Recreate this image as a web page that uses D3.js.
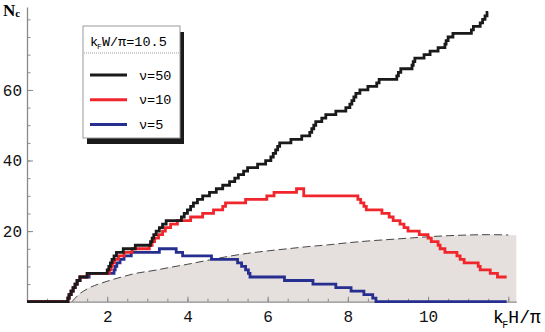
<!DOCTYPE html>
<html>
<head>
<meta charset="utf-8">
<script src="https://cdn.jsdelivr.net/npm/d3@7"></script>
<style>
  body { margin: 0; background: #fff; }
  text { font-family: "Liberation Mono", "Courier New", monospace; }
</style>
</head>
<body>
<svg id="chart" width="545" height="332"></svg>
<script>
// step data [kFH/pi, Nc]: value holds from x until the next point
const gamma50 = [
  [0, 0], [1.02, 1], [1.05, 2], [1.1, 3], [1.15, 4], [1.2, 5], [1.25, 6], [1.32, 7], [1.5, 8],
  [2.0, 9], [2.04, 10], [2.08, 11], [2.12, 12], [2.17, 13], [2.23, 14], [2.4, 15], [2.7, 16],
  [3.08, 17], [3.12, 18], [3.16, 19], [3.22, 20], [3.3, 21], [3.38, 22], [3.47, 23], [3.85, 24],
  [3.92, 25], [4.0, 26], [4.08, 27], [4.15, 28], [4.25, 29], [4.38, 30], [4.55, 31], [4.72, 32],
  [4.88, 33], [5.05, 34], [5.18, 35], [5.27, 36], [5.4, 37], [5.5, 38], [5.75, 39], [5.95, 40],
  [6.08, 41], [6.14, 42], [6.2, 43], [6.25, 44], [6.3, 45], [6.58, 46], [6.85, 47], [7.05, 48],
  [7.1, 49], [7.15, 50], [7.2, 51], [7.35, 52], [7.45, 53], [7.7, 54], [7.95, 55], [8.05, 56],
  [8.1, 57], [8.15, 58], [8.2, 59], [8.3, 60], [8.5, 61], [8.72, 62], [8.78, 63], [9.22, 64],
  [9.26, 65], [9.32, 66], [9.6, 67], [9.63, 68], [9.67, 69], [9.9, 70], [10.05, 71], [10.25, 72],
  [10.42, 73], [10.45, 74], [10.5, 75], [10.62, 76], [11.08, 77], [11.13, 78], [11.3, 79],
  [11.36, 80], [11.42, 81], [11.47, 82], [11.5, 82]
];
const gamma10 = [
  [0, 0], [1.02, 1], [1.05, 2], [1.1, 3], [1.15, 4], [1.2, 5], [1.25, 6], [1.32, 7], [1.5, 8],
  [2.05, 9], [2.1, 10], [2.13, 11], [2.18, 12], [2.28, 13], [2.42, 14], [2.62, 15], [3.05, 16],
  [3.12, 17], [3.18, 18], [3.28, 19], [3.38, 20], [3.45, 21], [3.58, 22], [3.75, 23], [4.08, 24],
  [4.38, 25], [4.65, 26], [4.88, 27], [4.95, 28], [5.45, 29], [5.98, 30], [6.16, 31], [6.72, 32],
  [6.9, 30], [8.25, 29], [8.32, 28], [8.4, 27], [8.46, 26], [8.85, 25], [9.03, 24], [9.13, 23],
  [9.3, 22], [9.4, 21], [9.5, 20], [9.78, 19], [10.0, 18], [10.08, 17], [10.25, 16], [10.3, 15],
  [10.42, 14], [10.72, 13], [10.8, 12], [10.9, 11], [11.25, 10], [11.3, 9], [11.55, 8],
  [11.73, 7], [11.96, 7]
];
const gamma5 = [
  [0, 0], [1.02, 1], [1.05, 2], [1.1, 3], [1.15, 4], [1.2, 5], [1.25, 6], [1.32, 7], [1.55, 8],
  [2.17, 9], [2.2, 10], [2.24, 11], [2.32, 12], [2.42, 13], [2.6, 14], [3.3, 15], [3.72, 14],
  [3.88, 13], [4.6, 12], [5.25, 11], [5.35, 10], [5.45, 9], [5.52, 8], [5.56, 7], [6.42, 6],
  [7.13, 5], [7.7, 4], [8.08, 3], [8.4, 2], [8.62, 1], [8.7, 0], [11.96, 0]
];
// dashed boundary, shaded below
const boundary = [
  [1.12, 0], [1.2, 1.0], [1.32, 2.3], [1.5, 3.6], [2.0, 5.8], [2.36, 7.0], [2.7, 8.0],
  [3.19, 8.9], [3.6, 9.8], [4.0, 10.6], [4.4, 11.5], [5.0, 12.8], [5.5, 13.7], [6.0, 14.4],
  [6.5, 15.0], [7.0, 15.6], [7.5, 16.1], [8.0, 16.7], [8.5, 17.2], [9.0, 17.6], [9.5, 18.0],
  [10.0, 18.4], [10.5, 18.7], [11.0, 18.9], [11.5, 19.0], [12.0, 18.9]
];
const shadeEnd = [12.2, 18.8];

const xMajorTicks = [2, 4, 6, 8, 10, 12];
const xTickLabels = ["2", "4", "6", "8", "10", ""];
const xMinorTicks = d3.range(0.5, 12.01, 0.5);
const yMajorTicks = [20, 40, 60];
const yTickLabels = ["20", "40", "60"];
const yMinorTicks = d3.range(5, 81, 5);

const series = [
  { label: "ν=5", data: gamma5, color: "#262f8f" },
  { label: "ν=10", data: gamma10, color: "#f0262c" },
  { label: "ν=50", data: gamma50, color: "#1a1a1a" }
];

const svg = d3.select("#chart");

const x = d3.scaleLinear().domain([0, 12.2]).range([27, 516.3]);
const y = d3.scaleLinear().domain([0, 83.5]).range([301.7, 7]);

// shaded region + dashed curve
const area = d3.area()
  .x(d => x(d[0])).y0(y(0)).y1(d => y(d[1]))
  .curve(d3.curveMonotoneX);
svg.append("path")
  .datum(boundary.concat([shadeEnd]))
  .attr("d", area)
  .attr("fill", "#e5dfdd");

svg.append("path")
  .datum(boundary)
  .attr("d", d3.line().x(d => x(d[0])).y(d => y(d[1])).curve(d3.curveMonotoneX))
  .attr("fill", "none")
  .attr("stroke", "#333")
  .attr("stroke-width", 0.9)
  .attr("stroke-dasharray", "8,4");

// axes
const axisColor = "#8a8a8a";
const styleAxis = g => {
  g.select(".domain").attr("stroke", axisColor).attr("stroke-width", 1.3);
  g.selectAll(".tick line").attr("stroke", axisColor).attr("stroke-width", 1);
  g.selectAll("text")
    .attr("fill", "#111")
    .style("font-family", "'Liberation Mono', monospace")
    .style("font-size", "16px");
};

svg.append("g")
  .attr("transform", `translate(0,${y(0)})`)
  .call(d3.axisBottom(x).tickValues(xMinorTicks).tickSizeInner(-3).tickSizeOuter(0).tickFormat(""))
  .call(g => g.select(".domain").remove())
  .call(styleAxis);

svg.append("g")
  .attr("transform", `translate(0,${y(0)})`)
  .call(d3.axisBottom(x).tickValues(xMajorTicks).tickSizeInner(-5).tickSizeOuter(0)
    .tickPadding(8.5).tickFormat((d, i) => xTickLabels[i]))
  .call(styleAxis);

svg.append("g")
  .attr("transform", `translate(${x(0)},0)`)
  .call(d3.axisLeft(y).tickValues(yMinorTicks).tickSizeInner(-3.5).tickSizeOuter(0).tickFormat(""))
  .call(g => g.select(".domain").remove())
  .call(styleAxis);

svg.append("g")
  .attr("transform", `translate(${x(0)},0)`)
  .call(d3.axisLeft(y).tickValues(yMajorTicks).tickSizeInner(-6).tickSizeOuter(0)
    .tickPadding(5).tickFormat((d, i) => yTickLabels[i]))
  .call(styleAxis);

// step lines
const stepLine = d3.line()
  .x(d => x(d[0])).y(d => y(d[1]))
  .curve(d3.curveStepAfter);

svg.selectAll(".series")
  .data(series)
  .join("path")
  .attr("class", "series")
  .attr("d", d => stepLine(d.data))
  .attr("fill", "none")
  .attr("stroke", d => d.color)
  .attr("stroke-width", 2.8)
  .attr("stroke-linejoin", "miter");

// axis labels
const yLab = svg.append("text").attr("x", 3).attr("y", 15.5)
  .style("font-family", "'Liberation Serif', serif").style("font-weight", "bold");
yLab.append("tspan").style("font-size", "17px").text("N");
yLab.append("tspan").attr("dy", 1.5).style("font-size", "11px").text("c");

const xLab = svg.append("text").attr("x", 493).attr("y", 323.3).style("font-size", "18px");
xLab.append("tspan").text("k");
xLab.append("tspan").attr("dy", 4.5).attr("dx", -1.5).style("font-size", "10px").text("F");
xLab.append("tspan").attr("dy", -4.5).text("H/π");

// legend
const legend = svg.append("g");
legend.append("rect").attr("x", 87).attr("y", 32).attr("width", 97).attr("height", 112).attr("fill", "#1a1a1a");
legend.append("rect").attr("x", 83).attr("y", 26).attr("width", 97).attr("height", 112)
  .attr("fill", "#fff").attr("stroke", "#999").attr("stroke-width", 1);

const head = legend.append("text").attr("x", 90).attr("y", 45.5).style("font-size", "13.5px");
head.append("tspan").text("k");
head.append("tspan").attr("dy", 3.5).attr("dx", -1).style("font-size", "8px").text("F");
head.append("tspan").attr("dy", -3.5).text("W/π=10.5");

legend.append("line").attr("x1", 84).attr("x2", 179).attr("y1", 53).attr("y2", 53)
  .attr("stroke", "#888").attr("stroke-width", 0.8).attr("stroke-dasharray", "1,1");

const legendRows = series.slice().reverse();
const rowY = d3.scalePoint().domain(legendRows.map(d => d.label)).range([75, 124.5]);
const row = legend.selectAll(".row").data(legendRows).join("g").attr("class", "row")
  .attr("transform", d => `translate(0,${rowY(d.label)})`);
row.append("line").attr("x1", 90).attr("x2", 127)
  .attr("stroke", d => d.color).attr("stroke-width", 2.8);
row.append("text").attr("x", 139).attr("y", 4.5).style("font-size", "13.5px").text(d => d.label);
</script>
</body>
</html>
